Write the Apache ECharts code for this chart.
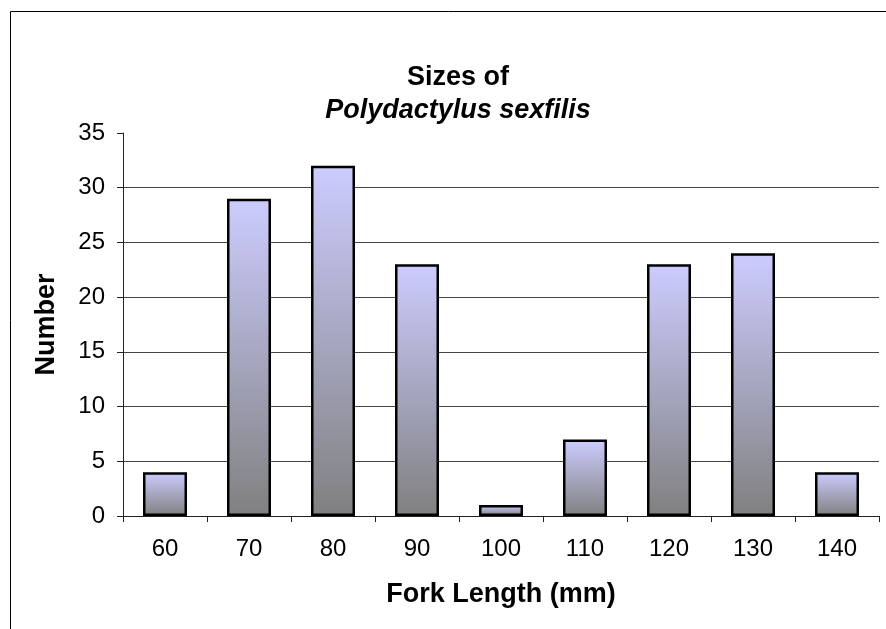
<!DOCTYPE html>
<html>
<head>
<meta charset="utf-8">
<script src="https://cdn.jsdelivr.net/npm/echarts@6/dist/echarts.min.js"></script>
<style>
  html, body { margin: 0; padding: 0; background: #fff; }
  #chart { width: 886px; height: 629px; }
</style>
</head>
<body>
<div id="chart"></div>
<script>
// fork length classes (mm) and counts
const lengths = ['60', '70', '80', '90', '100', '110', '120', '130', '140']
const counts = [4, 29, 32, 23, 1, 7, 23, 24, 4]

const font = '"Liberation Sans", Arial, sans-serif'

const chart = echarts.init(document.getElementById('chart'))

chart.setOption({
  animation: false,
  backgroundColor: '#fff',
  textStyle: { fontFamily: font },
  graphic: [{
    type: 'rect',
    shape: { x: 10.5, y: 11.5, width: 1000, height: 1000 },
    style: { fill: 'none', stroke: '#000', lineWidth: 1 },
    silent: true
  }],
  title: {
    text: '{a|Sizes of}\n{b|Polydactylus sexfilis}',
    left: 453,
    textAlign: 'center',
    top: 56,
    textStyle: {
      rich: {
        a: { fontFamily: font, fontSize: 27, fontWeight: 'bold', color: '#000', lineHeight: 33 },
        b: { fontFamily: font, fontSize: 27, fontWeight: 'bold', fontStyle: 'italic', color: '#000', lineHeight: 33 }
      }
    }
  },
  grid: {
    left: 123,
    right: 7,
    top: 133,
    bottom: 113
  },
  xAxis: {
    type: 'category',
    data: lengths,
    boundaryGap: true,
    name: 'Fork Length (mm)',
    nameLocation: 'middle',
    nameGap: 65,
    nameTextStyle: { fontFamily: font, fontSize: 27, fontWeight: 'bold', color: '#000' },
    axisLine: { lineStyle: { color: '#222', width: 1 } },
    axisTick: { show: true, length: 6, lineStyle: { color: '#222' } },
    axisLabel: { fontFamily: font, fontSize: 24, color: '#000', margin: 21 },
    splitLine: { show: false }
  },
  yAxis: {
    type: 'value',
    min: 0,
    max: 35,
    interval: 5,
    name: 'Number',
    nameLocation: 'middle',
    nameGap: 63,
    nameTextStyle: { fontFamily: font, fontSize: 27, fontWeight: 'bold', color: '#000' },
    axisLine: { show: true, lineStyle: { color: '#222', width: 1 } },
    axisTick: { show: true, length: 6, lineStyle: { color: '#222' } },
    axisLabel: { fontFamily: font, fontSize: 24, color: '#000', margin: 18 },
    splitLine: { show: true, showMaxLine: false, lineStyle: { color: '#444', width: 1 } }
  },
  series: [{
    type: 'bar',
    data: counts,
    barWidth: 44,
    itemStyle: {
      color: new echarts.graphic.LinearGradient(0, 0, 0, 1, [
        { offset: 0, color: '#ccccff' },
        { offset: 1, color: '#808080' }
      ]),
      borderColor: '#000',
      borderWidth: 2.5
    }
  }]
})
</script>
</body>
</html>
